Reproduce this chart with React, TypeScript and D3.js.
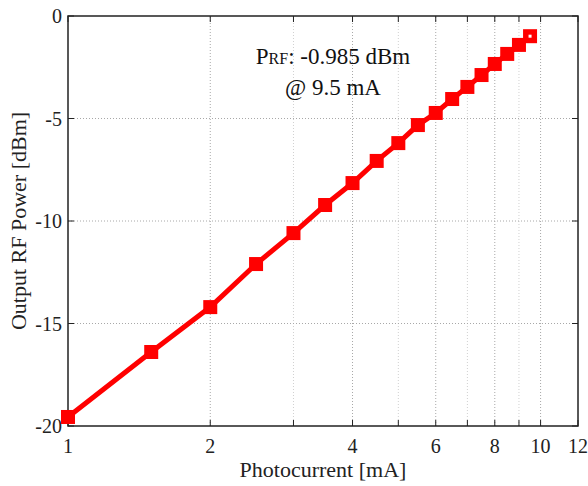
import React from 'react'
import * as d3 from 'd3'

const current = [1, 1.5, 2, 2.5, 3, 3.5, 4, 4.5, 5, 5.5, 6, 6.5, 7, 7.5, 8, 8.5, 9, 9.5]
const power = [-19.56, -16.39, -14.2, -12.1, -10.59, -9.22, -8.15, -7.07, -6.2, -5.32, -4.73, -4.05, -3.46, -2.88, -2.34, -1.85, -1.41, -0.985]
const xLabelTicks = [1, 2, 4, 6, 8, 10, 12]
const xMinorTicks = [3, 5, 7, 9]
const yTicks = [-20, -15, -10, -5, 0]

const W = 588
const H = 486
const m = {left: 68, right: 10, top: 16, bottom: 60}
const font = '"Liberation Serif", "Times New Roman", serif'

export default function App () {
  const x = d3.scaleLog().domain([1, 12]).range([m.left, W - m.right])
  const y = d3.scaleLinear().domain([-20, 0]).range([H - m.bottom, m.top])
  const pts = current.map((c, i) => [c, power[i]] as [number, number])
  const line = d3.line<[number, number]>().x(d => x(d[0])).y(d => y(d[1]))
  const x0 = x.range()[0], x1 = x.range()[1]
  const y0 = y.range()[0], y1 = y.range()[1]
  const last = pts[pts.length - 1]
  const tk = 6

  return (
    <svg width={W} height={H} style={{position: 'absolute', left: 0, top: 0, fontFamily: font}}>
      <rect x={0} y={0} width={W} height={H} fill='#fff' />
      {/* grid */}
      {xMinorTicks.map(t => (
        <line key={'gm' + t} x1={x(t)} x2={x(t)} y1={y0} y2={y1} stroke='#d0d0d0' strokeWidth={1} strokeDasharray='1,2' />
      ))}
      {xLabelTicks.slice(1, -1).map(t => (
        <line key={'gx' + t} x1={x(t)} x2={x(t)} y1={y0} y2={y1} stroke='#a8a8a8' strokeWidth={1} strokeDasharray='1,2' />
      ))}
      {yTicks.slice(1, -1).map(t => (
        <line key={'gy' + t} x1={x0} x2={x1} y1={y(t)} y2={y(t)} stroke='#a8a8a8' strokeWidth={1} strokeDasharray='1,2' />
      ))}
      {/* frame */}
      <rect x={x0} y={y1} width={x1 - x0} height={y0 - y1} fill='none' stroke='#222' strokeWidth={1.5} />
      {/* ticks */}
      {[...xLabelTicks, ...xMinorTicks].map(t => (
        <g key={'tx' + t}>
          <line x1={x(t)} x2={x(t)} y1={y0} y2={y0 - tk} stroke='#222' />
          <line x1={x(t)} x2={x(t)} y1={y1} y2={y1 + tk} stroke='#222' />
        </g>
      ))}
      {yTicks.map(t => (
        <g key={'ty' + t}>
          <line x1={x0} x2={x0 + tk} y1={y(t)} y2={y(t)} stroke='#222' />
          <line x1={x1} x2={x1 - tk} y1={y(t)} y2={y(t)} stroke='#222' />
        </g>
      ))}
      {/* tick labels */}
      {xLabelTicks.map(t => (
        <text key={'lx' + t} x={x(t)} y={y0 + 27} textAnchor='middle' fontSize={20} fill='#222'>{t}</text>
      ))}
      {yTicks.map(t => (
        <text key={'ly' + t} x={x0 - 6} y={y(t) + 7} textAnchor='end' fontSize={20} fill='#222'>{t}</text>
      ))}
      {/* axis titles */}
      <text x={(x0 + x1) / 2} y={H - 9} textAnchor='middle' fontSize={22} fill='#222'>Photocurrent [mA]</text>
      <text transform={`translate(26,${(y0 + y1) / 2}) rotate(-90)`} textAnchor='middle' fontSize={22} fill='#222'>Output RF Power [dBm]</text>
      {/* data */}
      <path d={line(pts) || ''} fill='none' stroke='#ff0000' strokeWidth={5} />
      {pts.map((d, i) => (
        <rect key={'p' + i} x={x(d[0]) - 7} y={y(d[1]) - 7} width={14} height={14} fill='#ff0000' />
      ))}
      <rect x={x(last[0]) - 1.5} y={y(last[1]) - 1.5} width={3} height={3} fill='#fff' />
      {/* annotation */}
      <text x={333} y={64} textAnchor='middle' fontSize={23} fill='#111'>
        P<tspan fontSize={16}>RF</tspan>: -0.985 dBm
      </text>
      <text x={333} y={95} textAnchor='middle' fontSize={23} fill='#111'>@ 9.5 mA</text>
    </svg>
  )
}
